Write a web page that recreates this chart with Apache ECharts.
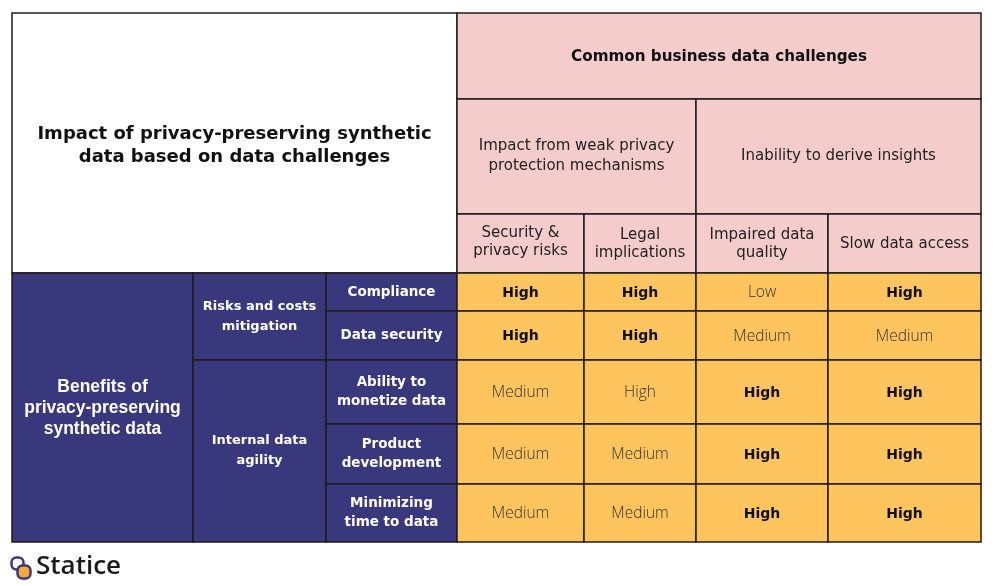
<!DOCTYPE html>
<html>
<head>
<meta charset="utf-8">
<script src="https://cdn.jsdelivr.net/npm/echarts@6/dist/echarts.min.js"></script>
<style>html,body{margin:0;padding:0;background:#fff}#chart{width:999px;height:586px}</style>
</head>
<body>
<div id="chart"></div>
<script>
// ---------- data ----------
const tableTitle = "Impact of privacy-preserving synthetic\ndata based on data challenges";
const challengeGroup = "Common business data challenges";
const challengeCategories = ["Impact from weak privacy\nprotection mechanisms", "Inability to derive insights"];
const challengeCategorySpan = [2, 2];
const challenges = ["Security &\nprivacy risks", "Legal\nimplications", "Impaired data\nquality", "Slow data access"];
const benefitGroup = "Benefits of\nprivacy-preserving\nsynthetic data";
const benefitCategories = ["Risks and costs\nmitigation", "Internal data\nagility"];
const benefitCategorySpan = [2, 3];
const benefits = ["Compliance", "Data security", "Ability to\nmonetize data", "Product\ndevelopment", "Minimizing\ntime to data"];
const compliance   = ["High", "High", "Low", "High"];
const dataSecurity = ["High", "High", "Medium", "Medium"];
const monetizeData = ["Medium", "High", "High", "High"];
const productDev   = ["Medium", "Medium", "High", "High"];
const timeToData   = ["Medium", "Medium", "High", "High"];
const impactRows = [compliance, dataSecurity, monetizeData, productDev, timeToData];
// cells written in bold in the source
const boldCells = [[1,1,0,1],[1,1,0,0],[0,0,1,1],[0,0,1,1],[0,0,1,1]];

// ---------- layout (not data) ----------
const colEdges = [0, 181, 314, 445, 572, 684, 816, 969];
const rowEdges = [0, 86, 201, 260, 298, 347, 411, 471, 529];
const NAVY = '#3a387d', PINK = '#f4cccc', ORANGE = '#fec45e', LINE = '#1c1c1c';
const WIDE = '"DejaVu Sans", "Open Sans", sans-serif';
const THIN = '"Open Sans", "Noto Sans", sans-serif';

const cells = [];
cells.push({c0:0,c1:3,r0:0,r1:3,text:tableTitle,fill:'#fff',color:'#111',font:'bold 18px '+WIDE,lh:23,dy:3});
cells.push({c0:3,c1:7,r0:0,r1:1,text:challengeGroup,fill:PINK,color:'#111',font:'bold 15.2px '+WIDE,lh:20,dy:1});
let cc = 3;
challengeCategories.forEach((t,i)=>{
  cells.push({c0:cc,c1:cc+challengeCategorySpan[i],r0:1,r1:2,text:t,fill:PINK,color:'#222',font:'15px '+WIDE,lh:20,dy:0});
  cc += challengeCategorySpan[i];
});
challenges.forEach((t,i)=>{
  cells.push({c0:3+i,c1:4+i,r0:2,r1:3,text:t,fill:PINK,color:'#222',font:'15px '+WIDE,lh:18,dy:i===0?-1:1});
});
cells.push({c0:0,c1:1,r0:3,r1:8,text:benefitGroup,fill:NAVY,color:'#fff',font:'bold 17.5px "Liberation Sans", Arial, sans-serif',lh:21,dy:1});
let rr = 3;
benefitCategories.forEach((t,i)=>{
  cells.push({c0:1,c1:2,r0:rr,r1:rr+benefitCategorySpan[i],text:t,fill:NAVY,color:'#fff',font:'bold 13px '+WIDE,lh:20,dy:0});
  rr += benefitCategorySpan[i];
});
benefits.forEach((t,i)=>{
  cells.push({c0:2,c1:3,r0:3+i,r1:4+i,text:t,fill:NAVY,color:'#fff',font:'bold 13.5px '+WIDE,lh:19,dy:0});
});
impactRows.forEach((row,i)=>{
  row.forEach((v,j)=>{
    const b = boldCells[i][j];
    cells.push({c0:3+j,c1:4+j,r0:3+i,r1:4+i,text:v,fill:ORANGE,color:b?'#111':'#333',font:(b?'bold 14px '+WIDE:'300 15.5px '+THIN),lh:20,dy:1});
  });
});

const chart = echarts.init(document.getElementById('chart'), null, {renderer:'canvas'});
chart.setOption({
  animation:false,
  grid:{left:12, top:13, width:969, height:529},
  xAxis:{type:'value', min:0, max:969, show:false},
  yAxis:{type:'value', min:0, max:529, inverse:true, show:false},
  series:[{
    type:'custom',
    coordinateSystem:'cartesian2d',
    clip:false,
    data: cells.map((c,i)=>[(colEdges[c.c0]+colEdges[c.c1])/2,(rowEdges[c.r0]+rowEdges[c.r1])/2,i]),
    encode:{x:0,y:1},
    renderItem:function(params, api){
      const c = cells[api.value(2)];
      const p0 = api.coord([colEdges[c.c0], rowEdges[c.r0]]);
      const p1 = api.coord([colEdges[c.c1], rowEdges[c.r1]]);
      return {
        type:'group',
        children:[
          {type:'rect', shape:{x:p0[0], y:p0[1], width:p1[0]-p0[0], height:p1[1]-p0[1]},
           style:{fill:c.fill, stroke:LINE, lineWidth:1.5}},
          {type:'text', x:(p0[0]+p1[0])/2, y:(p0[1]+p1[1])/2 + (c.dy||0),
           style:{text:c.text, font:c.font, fill:c.color, align:'center', verticalAlign:'middle', lineHeight:c.lh}}
        ]
      };
    }
  }],
  graphic:[
    {type:'group', left:9, top:555, children:[
      {type:'rect', shape:{x:0, y:0, width:12, height:12, r:5}, style:{fill:'none', stroke:'#3a387d', lineWidth:2.5}},
      {type:'rect', shape:{x:6, y:8, width:13, height:13, r:5}, style:{fill:'#f6a93b', stroke:'#3a387d', lineWidth:2.5}}
    ]},
    {type:'text', left:36, top:554, style:{text:'Statice', font:'600 26px '+THIN, fill:'#1a1a1a'}}
  ]
});
</script>
</body>
</html>
